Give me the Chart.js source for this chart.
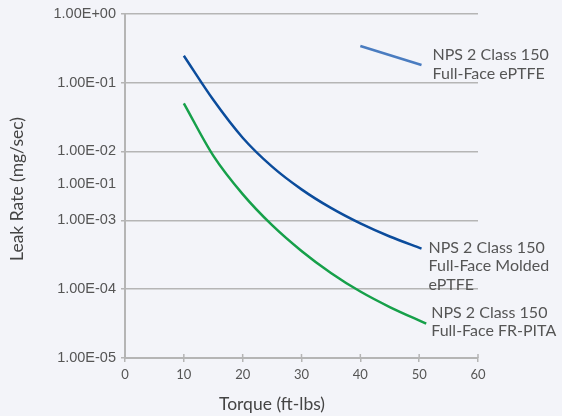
<!DOCTYPE html>
<html>
<head>
<meta charset="utf-8">
<script src="https://cdn.jsdelivr.net/npm/chart.js@4"></script>
<style>
  html, body { margin: 0; padding: 0; background: #f3f4f9; }
  #wrap { width: 562px; height: 416px; }
</style>
</head>
<body>
<div id="wrap"><canvas id="myChart"></canvas></div>
<script>
// torque (ft-lbs) and leak rate (mg/sec)
var eptfeTorque = [40, 50.4];
var eptfeLeak = [0.34, 0.18];

var moldedTorque = [10, 15, 20, 25, 30, 35, 40, 45, 50.4];
var moldedLeak = [0.245, 0.0561, 0.0158, 0.00601, 0.00281, 0.00151, 0.0009, 0.000581, 0.000388];

var pitaTorque = [10, 15, 20, 25, 30, 35, 40, 45, 51.2];
var pitaLeak = [0.05, 0.0087, 0.0024, 0.00085, 0.000359, 0.000172, 0.0000923, 0.000055, 0.0000316];

var yTicks = [1, 0.1, 0.01, 0.001, 0.0001, 0.00001];
var oddTick = 0.00335; // stray "1.00E-01" label between 1E-02 and 1E-03
var oddTickLabel = '1.00E-01';

var xTitle = 'Torque (ft-lbs)';
var yTitle = 'Leak Rate (mg/sec)';

var seriesLabels = [
  ['NPS 2 Class 150', 'Full-Face ePTFE'],
  ['NPS 2 Class 150', 'Full-Face Molded', 'ePTFE'],
  ['NPS 2 Class 150', 'Full-Face FR-PITA']
];

function pts(xs, ys) {
  return xs.map(function (x, i) { return { x: x, y: ys[i] }; });
}

function sci(v) {
  var e = Math.round(Math.log10(v));
  var s = Math.abs(e) < 10 ? '0' + Math.abs(e) : '' + Math.abs(e);
  return '1.00E' + (e < 0 ? '-' : '+') + s;
}

function isOdd(v) {
  return Math.abs(v - oddTick) < 1e-9;
}

// text next to the end of each line, axis titles, and tick stubs above the x axis
var extras = {
  id: 'extras',
  afterDatasetsDraw: function (chart) {
    var ctx = chart.ctx;
    var offsets = [[11, -10], [7, -1], [5, -11]];
    ctx.save();
    ctx.font = '16px Lato';
    ctx.fillStyle = '#555';
    ctx.textBaseline = 'middle';
    chart.data.datasets.forEach(function (ds, i) {
      var last = ds.data[ds.data.length - 1];
      var px = chart.scales.x.getPixelForValue(last.x) + offsets[i][0];
      var py = chart.scales.y.getPixelForValue(last.y) + offsets[i][1];
      seriesLabels[i].forEach(function (line, j) {
        ctx.fillText(line, px, py + j * 18.5);
      });
    });
    ctx.restore();
  },
  afterDraw: function (chart) {
    var ctx = chart.ctx;
    var xs = chart.scales.x;
    var bottom = chart.chartArea.bottom;
    ctx.save();
    ctx.strokeStyle = '#b5b5b5';
    ctx.lineWidth = 1.5;
    xs.ticks.forEach(function (t) {
      var px = xs.getPixelForValue(t.value);
      ctx.beginPath();
      ctx.moveTo(px, bottom);
      ctx.lineTo(px, bottom - 4);
      ctx.stroke();
    });
    ctx.fillStyle = '#444';
    ctx.font = '17.5px Lato';
    ctx.textAlign = 'center';
    ctx.textBaseline = 'middle';
    ctx.fillText(xTitle, 272, 404);
    ctx.translate(17.5, 189);
    ctx.rotate(-Math.PI / 2);
    ctx.fillText(yTitle, 0, 0);
    ctx.restore();
  }
};

var ctx = document.getElementById('myChart').getContext('2d');
var myChart = new Chart(ctx, {
  type: 'line',
  data: {
    datasets: [{
      data: pts(eptfeTorque, eptfeLeak),
      borderColor: '#4a7cc0',
      borderWidth: 2.5,
      pointRadius: 0
    }, {
      data: pts(moldedTorque, moldedLeak),
      borderColor: '#0b4c9c',
      borderWidth: 2.5,
      pointRadius: 0,
      cubicInterpolationMode: 'monotone'
    }, {
      data: pts(pitaTorque, pitaLeak),
      borderColor: '#16a04a',
      borderWidth: 2.5,
      pointRadius: 0,
      cubicInterpolationMode: 'monotone'
    }]
  },
  options: {
    responsive: true,
    maintainAspectRatio: false,
    animation: false,
    layout: { padding: { top: 12, right: 84, left: 0, bottom: 0 } },
    plugins: {
      legend: { display: false },
      tooltip: { enabled: false }
    },
    scales: {
      x: {
        type: 'linear',
        min: 0,
        max: 60,
        ticks: { stepSize: 10, color: '#555', font: { family: 'Lato', size: 13 }, padding: 5 },
        grid: { drawOnChartArea: false, color: '#b5b5b5', tickLength: 4, lineWidth: 1.5 },
        border: { color: '#b5b5b5', width: 2 },
        afterFit: function (scale) { scale.height = 58; }
      },
      y: {
        type: 'logarithmic',
        min: 0.00001,
        max: 1,
        afterBuildTicks: function (scale) {
          scale.ticks = yTicks.concat([oddTick]).map(function (v) { return { value: v }; });
        },
        ticks: {
          color: '#555',
          font: { family: 'Liberation Sans', size: 14.5 },
          padding: 5,
          callback: function (v) { return isOdd(v) ? oddTickLabel : sci(v); }
        },
        grid: {
          color: function (c) { return c.tick && isOdd(c.tick.value) ? 'rgba(0,0,0,0)' : '#b5b5b5'; },
          tickColor: function (c) { return c.tick && isOdd(c.tick.value) ? 'rgba(0,0,0,0)' : '#b5b5b5'; },
          lineWidth: 1.5,
          tickLength: 4
        },
        border: { color: '#b5b5b5', width: 2 },
        afterFit: function (scale) { scale.width = 125; }
      }
    }
  },
  plugins: [extras]
});
</script>
</body>
</html>
